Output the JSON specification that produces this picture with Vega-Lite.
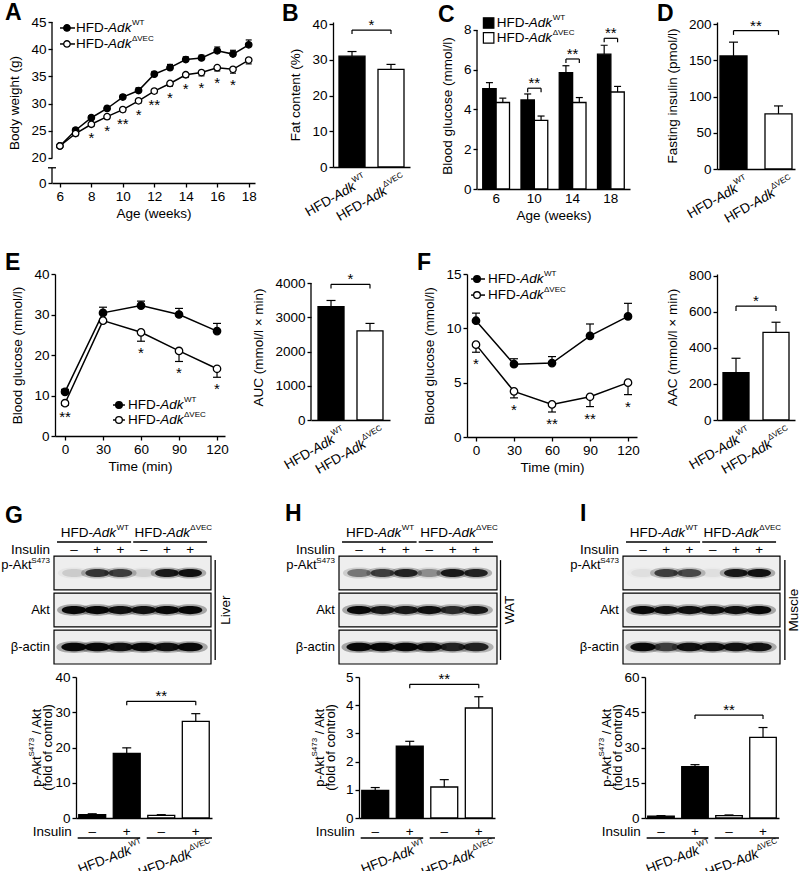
{
"$schema":"https://vega.github.io/schema/vega-lite/v6.json",
"padding":{"left":0,"top":2,"right":0,"bottom":0},
"background":"white",
"config":{
 "font":"Liberation Sans",
 "view":{"stroke":null},
 "mark":{"color":"black"},
 "point":{"opacity":1},
 "tick":{"opacity":1,"thickness":1.2},
 "bar":{"stroke":"black","strokeWidth":1.3},
 "text":{"fontSize":13.5,"color":"black"},
 "rule":{"strokeWidth":1.2},
 "axis":{"domainColor":"black","domainWidth":1.3,"tickColor":"black","tickWidth":1.3,"tickSize":4,"labelColor":"black","labelFontSize":13.5,"titleColor":"black","titleFontSize":13.5,"titleFontWeight":"normal","grid":false,"labelPadding":2,"labelFlush":false,"labelOverlap":false},
 "axisY":{"titlePadding":9},
 "axisX":{"titlePadding":4,"labelAngle":0},
 "title":{"fontSize":23,"fontWeight":"bold","anchor":"start","frame":"group","offset":0,"color":"black","baseline":"bottom"}
},
"datasets":{
 "bw":[
 {"wk":6,"g":"WT","v":22.2,"e":22.5,"s":""},{"wk":7,"g":"WT","v":25.1,"e":25.5,"s":""},{"wk":8,"g":"WT","v":27.4,"e":27.8,"s":""},{"wk":9,"g":"WT","v":29.1,"e":29.5,"s":""},{"wk":10,"g":"WT","v":31.2,"e":31.6,"s":""},{"wk":11,"g":"WT","v":32.4,"e":32.9,"s":""},{"wk":12,"g":"WT","v":35.4,"e":35.9,"s":""},{"wk":13,"g":"WT","v":36.6,"e":37.2,"s":""},{"wk":14,"g":"WT","v":38.1,"e":38.6,"s":""},{"wk":15,"g":"WT","v":38.4,"e":38.9,"s":""},{"wk":16,"g":"WT","v":39.7,"e":40.4,"s":""},{"wk":17,"g":"WT","v":39.1,"e":39.8,"s":""},{"wk":18,"g":"WT","v":40.8,"e":41.7,"s":""},
 {"wk":6,"g":"VEC","v":22.2,"e":21.9,"s":""},{"wk":7,"g":"VEC","v":24.5,"e":24.1,"s":""},{"wk":8,"g":"VEC","v":26.2,"e":25.8,"s":"*"},{"wk":9,"g":"VEC","v":27.6,"e":27.2,"s":"*"},{"wk":10,"g":"VEC","v":28.9,"e":28.5,"s":"**"},{"wk":11,"g":"VEC","v":30.5,"e":30.1,"s":"*"},{"wk":12,"g":"VEC","v":32.3,"e":31.9,"s":"**"},{"wk":13,"g":"VEC","v":33.7,"e":33.2,"s":"*"},{"wk":14,"g":"VEC","v":35.3,"e":34.8,"s":"*"},{"wk":15,"g":"VEC","v":35.7,"e":35.1,"s":"*"},{"wk":16,"g":"VEC","v":36.6,"e":36.0,"s":"*"},{"wk":17,"g":"VEC","v":36.3,"e":35.6,"s":"*"},{"wk":18,"g":"VEC","v":38.0,"e":37.3,"s":""}],
 "fat":[{"g":"WT","v":31.0,"e":32.3},{"g":"VEC","v":27.3,"e":28.7}],
 "glu":[{"wk":6,"g":"WT","v":5.05,"e":5.35},{"wk":6,"g":"VEC","v":4.35,"e":4.57},{"wk":10,"g":"WT","v":4.48,"e":4.78},{"wk":10,"g":"VEC","v":3.45,"e":3.67},{"wk":14,"g":"WT","v":5.85,"e":6.2},{"wk":14,"g":"VEC","v":4.35,"e":4.6},{"wk":18,"g":"WT","v":6.78,"e":7.23},{"wk":18,"g":"VEC","v":4.88,"e":5.16}],
 "ins":[{"g":"WT","v":156,"e":175},{"g":"VEC","v":76,"e":87}],
 "gtt":[{"t":0,"g":"WT","v":10.9,"e":11.5,"s":""},{"t":30,"g":"WT","v":30.4,"e":31.8,"s":""},{"t":60,"g":"WT","v":32.2,"e":33.3,"s":""},{"t":90,"g":"WT","v":30.0,"e":31.5,"s":""},{"t":120,"g":"WT","v":25.9,"e":27.8,"s":""},
 {"t":0,"g":"VEC","v":8.1,"e":7.6,"s":"**"},{"t":30,"g":"VEC","v":28.5,"e":28.0,"s":""},{"t":60,"g":"VEC","v":25.6,"e":23.4,"s":"*"},{"t":90,"g":"VEC","v":21.0,"e":18.4,"s":"*"},{"t":120,"g":"VEC","v":16.6,"e":14.5,"s":"*"}],
 "auc":[{"g":"WT","v":3310,"e":3490},{"g":"VEC","v":2600,"e":2820}],
 "itt":[{"t":0,"g":"WT","v":10.7,"e":11.4,"s":""},{"t":30,"g":"WT","v":6.7,"e":7.2,"s":""},{"t":60,"g":"WT","v":6.8,"e":7.4,"s":""},{"t":90,"g":"WT","v":9.3,"e":10.4,"s":""},{"t":120,"g":"WT","v":11.1,"e":12.3,"s":""},
 {"t":0,"g":"VEC","v":8.5,"e":7.8,"s":"*"},{"t":30,"g":"VEC","v":4.2,"e":3.6,"s":"*"},{"t":60,"g":"VEC","v":3.0,"e":2.3,"s":"**"},{"t":90,"g":"VEC","v":3.7,"e":2.8,"s":"**"},{"t":120,"g":"VEC","v":5.0,"e":3.9,"s":"*"}],
 "aac":[{"g":"WT","v":263,"e":343},{"g":"VEC","v":487,"e":543}],
 "gblot":[{"lane":1,"p":"p-Akt","i":0.12},{"lane":2,"p":"p-Akt","i":0.75},{"lane":3,"p":"p-Akt","i":0.7},{"lane":4,"p":"p-Akt","i":0.1},{"lane":5,"p":"p-Akt","i":0.9},{"lane":6,"p":"p-Akt","i":0.95},
 {"lane":1,"p":"Akt","i":1},{"lane":2,"p":"Akt","i":1},{"lane":3,"p":"Akt","i":0.95},{"lane":4,"p":"Akt","i":0.95},{"lane":5,"p":"Akt","i":1},{"lane":6,"p":"Akt","i":1},
 {"lane":1,"p":"β-actin","i":1},{"lane":2,"p":"β-actin","i":1},{"lane":3,"p":"β-actin","i":0.95},{"lane":4,"p":"β-actin","i":1},{"lane":5,"p":"β-actin","i":0.95},{"lane":6,"p":"β-actin","i":1}],
 "hblot":[{"lane":1,"p":"p-Akt","i":0.45},{"lane":2,"p":"p-Akt","i":0.7},{"lane":3,"p":"p-Akt","i":0.85},{"lane":4,"p":"p-Akt","i":0.35},{"lane":5,"p":"p-Akt","i":0.9},{"lane":6,"p":"p-Akt","i":0.85},
 {"lane":1,"p":"Akt","i":1},{"lane":2,"p":"Akt","i":0.9},{"lane":3,"p":"Akt","i":0.9},{"lane":4,"p":"Akt","i":0.95},{"lane":5,"p":"Akt","i":0.8},{"lane":6,"p":"Akt","i":0.9},
 {"lane":1,"p":"β-actin","i":1},{"lane":2,"p":"β-actin","i":1},{"lane":3,"p":"β-actin","i":1},{"lane":4,"p":"β-actin","i":0.95},{"lane":5,"p":"β-actin","i":0.85},{"lane":6,"p":"β-actin","i":0.85}],
 "iblot":[{"lane":1,"p":"p-Akt","i":0.05},{"lane":2,"p":"p-Akt","i":0.7},{"lane":3,"p":"p-Akt","i":0.65},{"lane":4,"p":"p-Akt","i":0.05},{"lane":5,"p":"p-Akt","i":0.9},{"lane":6,"p":"p-Akt","i":0.95},
 {"lane":1,"p":"Akt","i":1},{"lane":2,"p":"Akt","i":0.95},{"lane":3,"p":"Akt","i":0.95},{"lane":4,"p":"Akt","i":0.95},{"lane":5,"p":"Akt","i":0.95},{"lane":6,"p":"Akt","i":1},
 {"lane":1,"p":"β-actin","i":1},{"lane":2,"p":"β-actin","i":0.7},{"lane":3,"p":"β-actin","i":0.95},{"lane":4,"p":"β-actin","i":0.95},{"lane":5,"p":"β-actin","i":0.95},{"lane":6,"p":"β-actin","i":0.95}],
 "lanes":[{"lane":1,"ins":"–"},{"lane":2,"ins":"+"},{"lane":3,"ins":"+"},{"lane":4,"ins":"–"},{"lane":5,"ins":"+"},{"lane":6,"ins":"+"}],
 "gbar":[{"c":"WT-","g":"WT","ins":"–","v":0.95,"e":1.2},{"c":"WT+","g":"WT","ins":"+","v":18.3,"e":19.9},{"c":"VEC-","g":"VEC","ins":"–","v":0.75,"e":0.95},{"c":"VEC+","g":"VEC","ins":"+","v":27.4,"e":29.6}],
 "hbar":[{"c":"WT-","g":"WT","ins":"–","v":0.98,"e":1.08},{"c":"WT+","g":"WT","ins":"+","v":2.55,"e":2.72},{"c":"VEC-","g":"VEC","ins":"–","v":1.1,"e":1.36},{"c":"VEC+","g":"VEC","ins":"+","v":3.9,"e":4.3}],
 "ibar":[{"c":"WT-","g":"WT","ins":"–","v":0.8,"e":1.0},{"c":"WT+","g":"WT","ins":"+","v":21.8,"e":22.7},{"c":"VEC-","g":"VEC","ins":"–","v":1.0,"e":1.3},{"c":"VEC+","g":"VEC","ins":"+","v":34.3,"e":38.5}]
},
"spacing":0,
"vconcat":[
{"bounds":"flush","spacing":0,"hconcat":[
 {"width":52,"height":230,"data":{"values":[{}]},"mark":{"type":"point","opacity":0}},
 {"title":{"text":"A","dx":-47,"dy":14},"width":203,"height":161,"data":{"name":"bw"},
  "layer":[
   {"mark":{"type":"line","strokeWidth":1.5},"encoding":{"x":{"field":"wk","type":"quantitative","scale":{"domain":[5.5,18.4],"nice":false,"zero":false},"axis":{"values":[6,8,10,12,14,16,18],"format":"d","tickCount":30,"labelOverlap":false,"title":"Age (weeks)"}},"y":{"field":"v","type":"quantitative","scale":{"domain":[15.4,45],"nice":false,"zero":false},"axis":{"values":[15.4,20,25,30,35,40,45],"format":"d","tickCount":30,"labelOverlap":false,"labelExpr":"datum.value < 16 ? '0' : datum.label","title":"Body weight (g)","domain":false}},"detail":{"field":"g"}}},
   {"data":{"values":[{}]},"mark":{"type":"rule","strokeWidth":1.3},"encoding":{"x":{"datum":5.5},"y":{"datum":20},"y2":{"datum":45}}},
   {"data":{"values":[{}]},"mark":{"type":"rule","strokeWidth":1.3},"encoding":{"x":{"datum":5.5},"y":{"datum":15.4},"y2":{"datum":18.2}}},
   {"data":{"values":[{}]},"mark":{"type":"tick","orient":"horizontal","size":8,"thickness":1.3},"encoding":{"x":{"datum":5.5},"y":{"datum":18.2}}},
   {"mark":"rule","encoding":{"x":{"field":"wk","type":"quantitative"},"y":{"field":"v","type":"quantitative"},"y2":{"field":"e"}}},
   {"mark":{"type":"tick","orient":"horizontal","size":6},"encoding":{"x":{"field":"wk","type":"quantitative"},"y":{"field":"e","type":"quantitative"}}},
   {"mark":{"type":"point","shape":"circle","size":42,"filled":true,"stroke":"black","strokeWidth":1.3},"encoding":{"x":{"field":"wk","type":"quantitative"},"y":{"field":"v","type":"quantitative"},"fill":{"field":"g","type":"nominal","scale":{"domain":["WT","VEC"],"range":["black","white"]},"legend":null}}},
   {"mark":{"type":"text","fontSize":15,"baseline":"alphabetic","dy":17},"encoding":{"x":{"field":"wk","type":"quantitative"},"y":{"field":"e","type":"quantitative"},"text":{"field":"s"}}},
   {"data":{"values":[{}]},"mark":{"type":"rule","strokeWidth":1.5},"encoding":{"x":{"datum":6.01},"x2":{"datum":6.96},"y":{"datum":43.9}}},
   {"data":{"values":[{}]},"mark":{"type":"point","shape":"circle","size":42,"filled":true,"fill":"black","stroke":"black","strokeWidth":1.3},"encoding":{"x":{"datum":6.45},"y":{"datum":43.9}}},
   {"data":{"values":[{}]},"mark":{"type":"text","align":"left","baseline":"middle"},"encoding":{"x":{"datum":7.02},"y":{"datum":43.9},"text":{"value":"HFD-"}}},
   {"data":{"values":[{}]},"mark":{"type":"text","align":"left","baseline":"middle","fontStyle":"italic","dx":32.2},"encoding":{"x":{"datum":7.02},"y":{"datum":43.9},"text":{"value":"Adk"}}},
   {"data":{"values":[{}]},"mark":{"type":"text","align":"left","baseline":"middle","fontSize":8,"dx":56,"dy":-5},"encoding":{"x":{"datum":7.02},"y":{"datum":43.9},"text":{"value":"WT"}}},
   {"data":{"values":[{}]},"mark":{"type":"rule","strokeWidth":1.5},"encoding":{"x":{"datum":6.01},"x2":{"datum":6.96},"y":{"datum":40.96}}},
   {"data":{"values":[{}]},"mark":{"type":"point","shape":"circle","size":42,"filled":true,"fill":"white","stroke":"black","strokeWidth":1.3},"encoding":{"x":{"datum":6.45},"y":{"datum":40.96}}},
   {"data":{"values":[{}]},"mark":{"type":"text","align":"left","baseline":"middle"},"encoding":{"x":{"datum":7.02},"y":{"datum":40.96},"text":{"value":"HFD-"}}},
   {"data":{"values":[{}]},"mark":{"type":"text","align":"left","baseline":"middle","fontStyle":"italic","dx":32.2},"encoding":{"x":{"datum":7.02},"y":{"datum":40.96},"text":{"value":"Adk"}}},
   {"data":{"values":[{}]},"mark":{"type":"text","align":"left","baseline":"middle","fontSize":8,"dx":56,"dy":-5},"encoding":{"x":{"datum":7.02},"y":{"datum":40.96},"text":{"value":"ΔVEC"}}}
  ]},
 {"width":78,"height":1,"data":{"values":[{}]},"mark":{"type":"point","opacity":0}},
 {"title":{"text":"B","dx":-51,"dy":13},"width":77,"height":145,"data":{"name":"fat"},
  "layer":[
   {"mark":"bar","encoding":{"x":{"field":"g","type":"nominal","scale":{"domain":["WT","VEC"],"paddingInner":0.333,"paddingOuter":0.154},"axis":{"labels":false,"ticks":false,"title":null}},"y":{"field":"v","type":"quantitative","scale":{"domain":[0,40.56],"nice":false},"axis":{"values":[0,10,20,30,40],"format":"d","tickCount":30,"labelOverlap":false,"title":"Fat content (%)"}},"fill":{"field":"g","type":"nominal","scale":{"domain":["WT","VEC"],"range":["black","white"]},"legend":null}}},
   {"mark":"rule","encoding":{"x":{"field":"g","type":"nominal"},"y":{"field":"v","type":"quantitative"},"y2":{"field":"e"}}},
   {"mark":{"type":"tick","orient":"horizontal","size":9},"encoding":{"x":{"field":"g","type":"nominal"},"y":{"field":"e","type":"quantitative"}}},
   {"data":{"values":[{}]},"mark":"rule","encoding":{"x":{"datum":"WT","type":"nominal","bandPosition":0.5},"x2":{"datum":"VEC","bandPosition":0.5},"y":{"datum":38.3}}},
   {"data":{"values":[{"g":"WT"},{"g":"VEC"}]},"mark":"rule","encoding":{"x":{"field":"g","type":"nominal"},"y":{"datum":38.3},"y2":{"datum":37.2}}},
   {"data":{"values":[{}]},"mark":{"type":"text","fontSize":15,"baseline":"alphabetic"},"encoding":{"x":{"datum":"WT","type":"nominal","bandPosition":1.25},"y":{"datum":38.3},"text":{"value":"*"}}},
   {"data":{"values":[{}]},"mark":{"type":"text","angle":-30,"align":"right","baseline":"top","fontSize":8,"dx":-3,"dy":3.2},"encoding":{"x":{"datum":"WT","type":"nominal","bandPosition":0.9},"y":{"datum":0},"text":{"value":"WT"}}},
   {"data":{"values":[{}]},"mark":{"type":"text","angle":-30,"align":"right","baseline":"top","fontStyle":"italic","dx":-16,"dy":5.2},"encoding":{"x":{"datum":"WT","type":"nominal","bandPosition":0.9},"y":{"datum":0},"text":{"value":"Adk"}}},
   {"data":{"values":[{}]},"mark":{"type":"text","angle":-30,"align":"right","baseline":"top","dx":-39.3,"dy":5.2},"encoding":{"x":{"datum":"WT","type":"nominal","bandPosition":0.9},"y":{"datum":0},"text":{"value":"HFD-"}}},
   {"data":{"values":[{}]},"mark":{"type":"text","angle":-30,"align":"right","baseline":"top","fontSize":8,"dx":-3,"dy":3.2},"encoding":{"x":{"datum":"VEC","type":"nominal","bandPosition":0.9},"y":{"datum":0},"text":{"value":"ΔVEC"}}},
   {"data":{"values":[{}]},"mark":{"type":"text","angle":-30,"align":"right","baseline":"top","fontStyle":"italic","dx":-25,"dy":5.2},"encoding":{"x":{"datum":"VEC","type":"nominal","bandPosition":0.9},"y":{"datum":0},"text":{"value":"Adk"}}},
   {"data":{"values":[{}]},"mark":{"type":"text","angle":-30,"align":"right","baseline":"top","dx":-48.3,"dy":5.2},"encoding":{"x":{"datum":"VEC","type":"nominal","bandPosition":0.9},"y":{"datum":0},"text":{"value":"HFD-"}}}
  ]},
 {"width":67,"height":1,"data":{"values":[{}]},"mark":{"type":"point","opacity":0}},
 {"title":{"text":"C","dx":-39,"dy":17},"width":153,"height":167,"data":{"name":"glu"},
  "layer":[
   {"mark":"bar","encoding":{"x":{"field":"wk","type":"ordinal","scale":{"domain":[6,10,14,18],"paddingInner":0.3,"paddingOuter":0.15},"axis":{"ticks":false,"labelOverlap":false,"title":"Age (weeks)"}},"y":{"field":"v","type":"quantitative","scale":{"domain":[0,8.4],"nice":false},"axis":{"values":[0,2,4,6,8],"format":"d","tickCount":30,"labelOverlap":false,"title":"Blood glucose (mmol/l)","domain":false}},"xOffset":{"field":"g","type":"nominal","scale":{"domain":["WT","VEC"],"paddingInner":0}},"fill":{"field":"g","type":"nominal","scale":{"domain":["WT","VEC"],"range":["black","white"]},"legend":null}}},
   {"data":{"values":[{}]},"mark":{"type":"rule","strokeWidth":1.3},"encoding":{"x":{"datum":6,"type":"ordinal","bandPosition":-0.214},"y":{"datum":0},"y2":{"datum":8}}},
   {"mark":"rule","encoding":{"x":{"field":"wk","type":"ordinal"},"xOffset":{"field":"g","type":"nominal"},"y":{"field":"v","type":"quantitative"},"y2":{"field":"e"}}},
   {"mark":{"type":"tick","orient":"horizontal","size":7},"encoding":{"x":{"field":"wk","type":"ordinal"},"xOffset":{"field":"g","type":"nominal"},"y":{"field":"e","type":"quantitative"}}},
   {"data":{"values":[{}]},"mark":"rule","encoding":{"x":{"datum":10,"type":"ordinal","bandPosition":0.25},"x2":{"datum":10,"bandPosition":0.75},"y":{"datum":5.07}}},
   {"data":{"values":[{"wk":10,"g":"WT"},{"wk":10,"g":"VEC"}]},"mark":"rule","encoding":{"x":{"field":"wk","type":"ordinal"},"xOffset":{"field":"g","type":"nominal"},"y":{"datum":5.07},"y2":{"datum":4.87}}},
   {"data":{"values":[{}]},"mark":{"type":"text","fontSize":15,"baseline":"alphabetic"},"encoding":{"x":{"datum":10,"type":"ordinal","bandPosition":0.5},"y":{"datum":5.07},"text":{"value":"**"}}},
   {"data":{"values":[{}]},"mark":"rule","encoding":{"x":{"datum":14,"type":"ordinal","bandPosition":0.25},"x2":{"datum":14,"bandPosition":0.75},"y":{"datum":6.54}}},
   {"data":{"values":[{"wk":14,"g":"WT"},{"wk":14,"g":"VEC"}]},"mark":"rule","encoding":{"x":{"field":"wk","type":"ordinal"},"xOffset":{"field":"g","type":"nominal"},"y":{"datum":6.54},"y2":{"datum":6.34}}},
   {"data":{"values":[{}]},"mark":{"type":"text","fontSize":15,"baseline":"alphabetic"},"encoding":{"x":{"datum":14,"type":"ordinal","bandPosition":0.5},"y":{"datum":6.54},"text":{"value":"**"}}},
   {"data":{"values":[{}]},"mark":"rule","encoding":{"x":{"datum":18,"type":"ordinal","bandPosition":0.25},"x2":{"datum":18,"bandPosition":0.75},"y":{"datum":7.58}}},
   {"data":{"values":[{"wk":18,"g":"WT"},{"wk":18,"g":"VEC"}]},"mark":"rule","encoding":{"x":{"field":"wk","type":"ordinal"},"xOffset":{"field":"g","type":"nominal"},"y":{"datum":7.58},"y2":{"datum":7.38}}},
   {"data":{"values":[{}]},"mark":{"type":"text","fontSize":15,"baseline":"alphabetic"},"encoding":{"x":{"datum":18,"type":"ordinal","bandPosition":0.5},"y":{"datum":7.58},"text":{"value":"**"}}},
   {"data":{"values":[{}]},"mark":{"type":"point","shape":"square","size":110,"filled":true,"fill":"black","stroke":"black","strokeWidth":1.2},"encoding":{"x":{"datum":6,"type":"ordinal","bandPosition":0.22},"y":{"datum":8.35}}},
   {"data":{"values":[{}]},"mark":{"type":"text","align":"left","baseline":"middle"},"encoding":{"x":{"datum":6,"type":"ordinal","bandPosition":0.52},"y":{"datum":8.35},"text":{"value":"HFD-"}}},
   {"data":{"values":[{}]},"mark":{"type":"text","align":"left","baseline":"middle","fontStyle":"italic","dx":32.2},"encoding":{"x":{"datum":6,"type":"ordinal","bandPosition":0.52},"y":{"datum":8.35},"text":{"value":"Adk"}}},
   {"data":{"values":[{}]},"mark":{"type":"text","align":"left","baseline":"middle","fontSize":8,"dx":56,"dy":-5},"encoding":{"x":{"datum":6,"type":"ordinal","bandPosition":0.52},"y":{"datum":8.35},"text":{"value":"WT"}}},
   {"data":{"values":[{}]},"mark":{"type":"point","shape":"square","size":110,"filled":true,"fill":"white","stroke":"black","strokeWidth":1.2},"encoding":{"x":{"datum":6,"type":"ordinal","bandPosition":0.22},"y":{"datum":7.6}}},
   {"data":{"values":[{}]},"mark":{"type":"text","align":"left","baseline":"middle"},"encoding":{"x":{"datum":6,"type":"ordinal","bandPosition":0.52},"y":{"datum":7.6},"text":{"value":"HFD-"}}},
   {"data":{"values":[{}]},"mark":{"type":"text","align":"left","baseline":"middle","fontStyle":"italic","dx":32.2},"encoding":{"x":{"datum":6,"type":"ordinal","bandPosition":0.52},"y":{"datum":7.6},"text":{"value":"Adk"}}},
   {"data":{"values":[{}]},"mark":{"type":"text","align":"left","baseline":"middle","fontSize":8,"dx":56,"dy":-5},"encoding":{"x":{"datum":6,"type":"ordinal","bandPosition":0.52},"y":{"datum":7.6},"text":{"value":"ΔVEC"}}}
  ]},
 {"width":87,"height":1,"data":{"values":[{}]},"mark":{"type":"point","opacity":0}},
 {"title":{"text":"D","dx":-60,"dy":13},"width":78,"height":147,"data":{"name":"ins"},
  "layer":[
   {"mark":"bar","encoding":{"x":{"field":"g","type":"nominal","scale":{"domain":["WT","VEC"],"paddingInner":0.4,"paddingOuter":0.067},"axis":{"labels":false,"ticks":false,"title":null}},"y":{"field":"v","type":"quantitative","scale":{"domain":[0,202.8],"nice":false},"axis":{"values":[0,50,100,150,200],"format":"d","tickCount":30,"labelOverlap":false,"title":"Fasting insulin (pmol/l)"}},"fill":{"field":"g","type":"nominal","scale":{"domain":["WT","VEC"],"range":["black","white"]},"legend":null}}},
   {"mark":"rule","encoding":{"x":{"field":"g","type":"nominal"},"y":{"field":"v","type":"quantitative"},"y2":{"field":"e"}}},
   {"mark":{"type":"tick","orient":"horizontal","size":9},"encoding":{"x":{"field":"g","type":"nominal"},"y":{"field":"e","type":"quantitative"}}},
   {"data":{"values":[{}]},"mark":"rule","encoding":{"x":{"datum":"WT","type":"nominal","bandPosition":0.5},"x2":{"datum":"VEC","bandPosition":0.5},"y":{"datum":191}}},
   {"data":{"values":[{"g":"WT"},{"g":"VEC"}]},"mark":"rule","encoding":{"x":{"field":"g","type":"nominal"},"y":{"datum":191},"y2":{"datum":185}}},
   {"data":{"values":[{}]},"mark":{"type":"text","fontSize":15,"baseline":"alphabetic"},"encoding":{"x":{"datum":"WT","type":"nominal","bandPosition":1.33},"y":{"datum":191},"text":{"value":"**"}}},
   {"data":{"values":[{}]},"mark":{"type":"text","angle":-30,"align":"right","baseline":"top","fontSize":8,"dx":-3,"dy":3.2},"encoding":{"x":{"datum":"WT","type":"nominal","bandPosition":0.9},"y":{"datum":0},"text":{"value":"WT"}}},
   {"data":{"values":[{}]},"mark":{"type":"text","angle":-30,"align":"right","baseline":"top","fontStyle":"italic","dx":-16,"dy":5.2},"encoding":{"x":{"datum":"WT","type":"nominal","bandPosition":0.9},"y":{"datum":0},"text":{"value":"Adk"}}},
   {"data":{"values":[{}]},"mark":{"type":"text","angle":-30,"align":"right","baseline":"top","dx":-39.3,"dy":5.2},"encoding":{"x":{"datum":"WT","type":"nominal","bandPosition":0.9},"y":{"datum":0},"text":{"value":"HFD-"}}},
   {"data":{"values":[{}]},"mark":{"type":"text","angle":-30,"align":"right","baseline":"top","fontSize":8,"dx":-3,"dy":3.2},"encoding":{"x":{"datum":"VEC","type":"nominal","bandPosition":0.9},"y":{"datum":0},"text":{"value":"ΔVEC"}}},
   {"data":{"values":[{}]},"mark":{"type":"text","angle":-30,"align":"right","baseline":"top","fontStyle":"italic","dx":-25,"dy":5.2},"encoding":{"x":{"datum":"VEC","type":"nominal","bandPosition":0.9},"y":{"datum":0},"text":{"value":"Adk"}}},
   {"data":{"values":[{}]},"mark":{"type":"text","angle":-30,"align":"right","baseline":"top","dx":-48.3,"dy":5.2},"encoding":{"x":{"datum":"VEC","type":"nominal","bandPosition":0.9},"y":{"datum":0},"text":{"value":"HFD-"}}}
  ]}
]},
{"bounds":"flush","spacing":0,"hconcat":[
 {"width":55,"height":229,"data":{"values":[{}]},"mark":{"type":"point","opacity":0}},
 {"title":{"text":"E","dx":-50,"dy":12},"width":170,"height":162,"data":{"name":"gtt"},
  "layer":[
   {"mark":{"type":"line","strokeWidth":1.5},"encoding":{"x":{"field":"t","type":"quantitative","scale":{"domain":[-7.9,126.3],"nice":false,"zero":false},"axis":{"values":[0,30,60,90,120],"format":"d","tickCount":30,"labelOverlap":false,"title":"Time (min)"}},"y":{"field":"v","type":"quantitative","scale":{"domain":[0,40],"nice":false},"axis":{"values":[0,10,20,30,40],"format":"d","tickCount":30,"labelOverlap":false,"title":"Blood glucose (mmol/l)"}},"detail":{"field":"g"}}},
   {"mark":"rule","encoding":{"x":{"field":"t","type":"quantitative"},"y":{"field":"v","type":"quantitative"},"y2":{"field":"e"}}},
   {"mark":{"type":"tick","orient":"horizontal","size":8},"encoding":{"x":{"field":"t","type":"quantitative"},"y":{"field":"e","type":"quantitative"}}},
   {"mark":{"type":"point","shape":"circle","size":55,"filled":true,"stroke":"black","strokeWidth":1.3},"encoding":{"x":{"field":"t","type":"quantitative"},"y":{"field":"v","type":"quantitative"},"fill":{"field":"g","type":"nominal","scale":{"domain":["WT","VEC"],"range":["black","white"]},"legend":null}}},
   {"mark":{"type":"text","fontSize":15,"baseline":"alphabetic","dy":17},"encoding":{"x":{"field":"t","type":"quantitative"},"y":{"field":"e","type":"quantitative"},"text":{"field":"s"}}},
   {"data":{"values":[{}]},"mark":{"type":"rule","strokeWidth":1.5},"encoding":{"x":{"datum":37.9},"x2":{"datum":47.3},"y":{"datum":7.65}}},
   {"data":{"values":[{}]},"mark":{"type":"point","shape":"circle","size":45,"filled":true,"fill":"black","stroke":"black","strokeWidth":1.3},"encoding":{"x":{"datum":42.6},"y":{"datum":7.65}}},
   {"data":{"values":[{}]},"mark":{"type":"text","align":"left","baseline":"middle"},"encoding":{"x":{"datum":49.7},"y":{"datum":7.65},"text":{"value":"HFD-"}}},
   {"data":{"values":[{}]},"mark":{"type":"text","align":"left","baseline":"middle","fontStyle":"italic","dx":32.2},"encoding":{"x":{"datum":49.7},"y":{"datum":7.65},"text":{"value":"Adk"}}},
   {"data":{"values":[{}]},"mark":{"type":"text","align":"left","baseline":"middle","fontSize":8,"dx":56,"dy":-5},"encoding":{"x":{"datum":49.7},"y":{"datum":7.65},"text":{"value":"WT"}}},
   {"data":{"values":[{}]},"mark":{"type":"rule","strokeWidth":1.5},"encoding":{"x":{"datum":37.9},"x2":{"datum":47.3},"y":{"datum":3.95}}},
   {"data":{"values":[{}]},"mark":{"type":"point","shape":"circle","size":45,"filled":true,"fill":"white","stroke":"black","strokeWidth":1.3},"encoding":{"x":{"datum":42.6},"y":{"datum":3.95}}},
   {"data":{"values":[{}]},"mark":{"type":"text","align":"left","baseline":"middle"},"encoding":{"x":{"datum":49.7},"y":{"datum":3.95},"text":{"value":"HFD-"}}},
   {"data":{"values":[{}]},"mark":{"type":"text","align":"left","baseline":"middle","fontStyle":"italic","dx":32.2},"encoding":{"x":{"datum":49.7},"y":{"datum":3.95},"text":{"value":"Adk"}}},
   {"data":{"values":[{}]},"mark":{"type":"text","align":"left","baseline":"middle","fontSize":8,"dx":56,"dy":-5},"encoding":{"x":{"datum":49.7},"y":{"datum":3.95},"text":{"value":"ΔVEC"}}}
  ]},
 {"width":86,"height":1,"data":{"values":[{}]},"mark":{"type":"point","opacity":0}},
 {"width":79,"height":146,"data":{"name":"auc"},
  "layer":[
   {"mark":"bar","encoding":{"x":{"field":"g","type":"nominal","scale":{"domain":["WT","VEC"],"paddingInner":0.333,"paddingOuter":0.18},"axis":{"labels":false,"ticks":false,"title":null}},"y":{"field":"v","type":"quantitative","scale":{"domain":[0,4263],"nice":false},"axis":{"values":[0,1000,2000,3000,4000],"tickCount":30,"labelOverlap":false,"format":"d","title":"AUC (mmol/l × min)","domain":false}},"fill":{"field":"g","type":"nominal","scale":{"domain":["WT","VEC"],"range":["black","white"]},"legend":null}}},
   {"data":{"values":[{}]},"mark":{"type":"rule","strokeWidth":1.3},"encoding":{"x":{"datum":"WT","type":"nominal","bandPosition":-0.27},"y":{"datum":0},"y2":{"datum":4000}}},
   {"mark":"rule","encoding":{"x":{"field":"g","type":"nominal"},"y":{"field":"v","type":"quantitative"},"y2":{"field":"e"}}},
   {"mark":{"type":"tick","orient":"horizontal","size":9},"encoding":{"x":{"field":"g","type":"nominal"},"y":{"field":"e","type":"quantitative"}}},
   {"data":{"values":[{}]},"mark":"rule","encoding":{"x":{"datum":"WT","type":"nominal","bandPosition":0.5},"x2":{"datum":"VEC","bandPosition":0.5},"y":{"datum":3962}}},
   {"data":{"values":[{"g":"WT"},{"g":"VEC"}]},"mark":"rule","encoding":{"x":{"field":"g","type":"nominal"},"y":{"datum":3962},"y2":{"datum":3840}}},
   {"data":{"values":[{}]},"mark":{"type":"text","fontSize":15,"baseline":"alphabetic"},"encoding":{"x":{"datum":"WT","type":"nominal","bandPosition":1.25},"y":{"datum":3962},"text":{"value":"*"}}},
   {"data":{"values":[{}]},"mark":{"type":"text","angle":-30,"align":"right","baseline":"top","fontSize":8,"dx":-3,"dy":3.2},"encoding":{"x":{"datum":"WT","type":"nominal","bandPosition":0.9},"y":{"datum":0},"text":{"value":"WT"}}},
   {"data":{"values":[{}]},"mark":{"type":"text","angle":-30,"align":"right","baseline":"top","fontStyle":"italic","dx":-16,"dy":5.2},"encoding":{"x":{"datum":"WT","type":"nominal","bandPosition":0.9},"y":{"datum":0},"text":{"value":"Adk"}}},
   {"data":{"values":[{}]},"mark":{"type":"text","angle":-30,"align":"right","baseline":"top","dx":-39.3,"dy":5.2},"encoding":{"x":{"datum":"WT","type":"nominal","bandPosition":0.9},"y":{"datum":0},"text":{"value":"HFD-"}}},
   {"data":{"values":[{}]},"mark":{"type":"text","angle":-30,"align":"right","baseline":"top","fontSize":8,"dx":-3,"dy":3.2},"encoding":{"x":{"datum":"VEC","type":"nominal","bandPosition":0.9},"y":{"datum":0},"text":{"value":"ΔVEC"}}},
   {"data":{"values":[{}]},"mark":{"type":"text","angle":-30,"align":"right","baseline":"top","fontStyle":"italic","dx":-25,"dy":5.2},"encoding":{"x":{"datum":"VEC","type":"nominal","bandPosition":0.9},"y":{"datum":0},"text":{"value":"Adk"}}},
   {"data":{"values":[{}]},"mark":{"type":"text","angle":-30,"align":"right","baseline":"top","dx":-48.3,"dy":5.2},"encoding":{"x":{"datum":"VEC","type":"nominal","bandPosition":0.9},"y":{"datum":0},"text":{"value":"HFD-"}}}
  ]},
 {"width":77,"height":1,"data":{"values":[{}]},"mark":{"type":"point","opacity":0}},
 {"title":{"text":"F","dx":-50,"dy":12},"width":170,"height":163,"data":{"name":"itt"},
  "layer":[
   {"mark":{"type":"line","strokeWidth":1.5},"encoding":{"x":{"field":"t","type":"quantitative","scale":{"domain":[-7.1,127.1],"nice":false,"zero":false},"axis":{"values":[0,30,60,90,120],"format":"d","tickCount":30,"labelOverlap":false,"title":"Time (min)"}},"y":{"field":"v","type":"quantitative","scale":{"domain":[0,15],"nice":false},"axis":{"values":[0,5,10,15],"format":"d","tickCount":30,"labelOverlap":false,"title":"Blood glucose (mmol/l)"}},"detail":{"field":"g"}}},
   {"mark":"rule","encoding":{"x":{"field":"t","type":"quantitative"},"y":{"field":"v","type":"quantitative"},"y2":{"field":"e"}}},
   {"mark":{"type":"tick","orient":"horizontal","size":8},"encoding":{"x":{"field":"t","type":"quantitative"},"y":{"field":"e","type":"quantitative"}}},
   {"mark":{"type":"point","shape":"circle","size":55,"filled":true,"stroke":"black","strokeWidth":1.3},"encoding":{"x":{"field":"t","type":"quantitative"},"y":{"field":"v","type":"quantitative"},"fill":{"field":"g","type":"nominal","scale":{"domain":["WT","VEC"],"range":["black","white"]},"legend":null}}},
   {"mark":{"type":"text","fontSize":15,"baseline":"alphabetic","dy":17},"encoding":{"x":{"field":"t","type":"quantitative"},"y":{"field":"e","type":"quantitative"},"text":{"field":"s"}}},
   {"data":{"values":[{}]},"mark":{"type":"rule","strokeWidth":1.5},"encoding":{"x":{"datum":-3.9},"x2":{"datum":7.1},"y":{"datum":14.54}}},
   {"data":{"values":[{}]},"mark":{"type":"point","shape":"circle","size":45,"filled":true,"fill":"black","stroke":"black","strokeWidth":1.3},"encoding":{"x":{"datum":0.8},"y":{"datum":14.54}}},
   {"data":{"values":[{}]},"mark":{"type":"text","align":"left","baseline":"middle"},"encoding":{"x":{"datum":9.5},"y":{"datum":14.54},"text":{"value":"HFD-"}}},
   {"data":{"values":[{}]},"mark":{"type":"text","align":"left","baseline":"middle","fontStyle":"italic","dx":32.2},"encoding":{"x":{"datum":9.5},"y":{"datum":14.54},"text":{"value":"Adk"}}},
   {"data":{"values":[{}]},"mark":{"type":"text","align":"left","baseline":"middle","fontSize":8,"dx":56,"dy":-5},"encoding":{"x":{"datum":9.5},"y":{"datum":14.54},"text":{"value":"WT"}}},
   {"data":{"values":[{}]},"mark":{"type":"rule","strokeWidth":1.5},"encoding":{"x":{"datum":-3.9},"x2":{"datum":7.1},"y":{"datum":13.06}}},
   {"data":{"values":[{}]},"mark":{"type":"point","shape":"circle","size":45,"filled":true,"fill":"white","stroke":"black","strokeWidth":1.3},"encoding":{"x":{"datum":0.8},"y":{"datum":13.06}}},
   {"data":{"values":[{}]},"mark":{"type":"text","align":"left","baseline":"middle"},"encoding":{"x":{"datum":9.5},"y":{"datum":13.06},"text":{"value":"HFD-"}}},
   {"data":{"values":[{}]},"mark":{"type":"text","align":"left","baseline":"middle","fontStyle":"italic","dx":32.2},"encoding":{"x":{"datum":9.5},"y":{"datum":13.06},"text":{"value":"Adk"}}},
   {"data":{"values":[{}]},"mark":{"type":"text","align":"left","baseline":"middle","fontSize":8,"dx":56,"dy":-5},"encoding":{"x":{"datum":9.5},"y":{"datum":13.06},"text":{"value":"ΔVEC"}}}
  ]},
 {"width":80,"height":1,"data":{"values":[{}]},"mark":{"type":"point","opacity":0}},
 {"width":78,"height":146,"data":{"name":"aac"},
  "layer":[
   {"mark":"bar","encoding":{"x":{"field":"g","type":"nominal","scale":{"domain":["WT","VEC"],"paddingInner":0.35,"paddingOuter":0.15},"axis":{"labels":false,"ticks":false,"title":null}},"y":{"field":"v","type":"quantitative","scale":{"domain":[0,811],"nice":false},"axis":{"values":[0,200,400,600,800],"format":"d","tickCount":30,"labelOverlap":false,"title":"AAC (mmol/l × min)"}},"fill":{"field":"g","type":"nominal","scale":{"domain":["WT","VEC"],"range":["black","white"]},"legend":null}}},
   {"mark":"rule","encoding":{"x":{"field":"g","type":"nominal"},"y":{"field":"v","type":"quantitative"},"y2":{"field":"e"}}},
   {"mark":{"type":"tick","orient":"horizontal","size":9},"encoding":{"x":{"field":"g","type":"nominal"},"y":{"field":"e","type":"quantitative"}}},
   {"data":{"values":[{}]},"mark":"rule","encoding":{"x":{"datum":"WT","type":"nominal","bandPosition":0.5},"x2":{"datum":"VEC","bandPosition":0.5},"y":{"datum":633}}},
   {"data":{"values":[{"g":"WT"},{"g":"VEC"}]},"mark":"rule","encoding":{"x":{"field":"g","type":"nominal"},"y":{"datum":633},"y2":{"datum":606}}},
   {"data":{"values":[{}]},"mark":{"type":"text","fontSize":15,"baseline":"alphabetic"},"encoding":{"x":{"datum":"WT","type":"nominal","bandPosition":1.27},"y":{"datum":633},"text":{"value":"*"}}},
   {"data":{"values":[{}]},"mark":{"type":"text","angle":-30,"align":"right","baseline":"top","fontSize":8,"dx":-3,"dy":3.2},"encoding":{"x":{"datum":"WT","type":"nominal","bandPosition":0.9},"y":{"datum":0},"text":{"value":"WT"}}},
   {"data":{"values":[{}]},"mark":{"type":"text","angle":-30,"align":"right","baseline":"top","fontStyle":"italic","dx":-16,"dy":5.2},"encoding":{"x":{"datum":"WT","type":"nominal","bandPosition":0.9},"y":{"datum":0},"text":{"value":"Adk"}}},
   {"data":{"values":[{}]},"mark":{"type":"text","angle":-30,"align":"right","baseline":"top","dx":-39.3,"dy":5.2},"encoding":{"x":{"datum":"WT","type":"nominal","bandPosition":0.9},"y":{"datum":0},"text":{"value":"HFD-"}}},
   {"data":{"values":[{}]},"mark":{"type":"text","angle":-30,"align":"right","baseline":"top","fontSize":8,"dx":-3,"dy":3.2},"encoding":{"x":{"datum":"VEC","type":"nominal","bandPosition":0.9},"y":{"datum":0},"text":{"value":"ΔVEC"}}},
   {"data":{"values":[{}]},"mark":{"type":"text","angle":-30,"align":"right","baseline":"top","fontStyle":"italic","dx":-25,"dy":5.2},"encoding":{"x":{"datum":"VEC","type":"nominal","bandPosition":0.9},"y":{"datum":0},"text":{"value":"Adk"}}},
   {"data":{"values":[{}]},"mark":{"type":"text","angle":-30,"align":"right","baseline":"top","dx":-48.3,"dy":5.2},"encoding":{"x":{"datum":"VEC","type":"nominal","bandPosition":0.9},"y":{"datum":0},"text":{"value":"HFD-"}}}
  ]}
]},
{"bounds":"flush","spacing":0,"hconcat":[
 {"width":54,"height":151,"data":{"values":[{}]},"mark":{"type":"point","opacity":0}},
 {"title":{"text":"G","dx":-49,"dy":13},"width":157,"height":145,"data":{"name":"gblot"},"resolve":{"scale":{"size":"independent"}},
  "layer":[
   {"data":{"values":[{"p":"p-Akt"},{"p":"Akt"},{"p":"β-actin"}]},"mark":{"type":"rect","fill":"#eeeeee","stroke":"black","strokeWidth":1.2},"encoding":{"x":{"datum":0.14,"scale":{"domain":[0.14,6.9],"nice":false,"zero":false},"axis":null},"x2":{"datum":6.9},"y":{"field":"p","type":"nominal","scale":{"domain":["hdr","p-Akt","Akt","β-actin"],"paddingInner":0.088,"paddingOuter":0},"axis":null}}},
   {"mark":{"type":"point","shape":"M-1,0C-1,-0.45 1,-0.45 1,0C1,0.45 -1,0.45 -1,0Z","filled":true,"fill":"black","strokeWidth":0},"encoding":{"x":{"field":"lane","type":"quantitative","axis":null},"y":{"field":"p","type":"nominal","axis":null},"size":{"field":"p","type":"ordinal","scale":{"domain":["p-Akt","Akt","β-actin"],"range":[1050,1250,1350]},"legend":null},"fillOpacity":{"field":"i","type":"quantitative","scale":{"domain":[0,1],"range":[0,0.3]},"legend":null}}},
   {"mark":{"type":"point","shape":"M-1,0C-1,-0.45 1,-0.45 1,0C1,0.45 -1,0.45 -1,0Z","filled":true,"fill":"black","strokeWidth":0},"encoding":{"x":{"field":"lane","type":"quantitative","axis":null},"y":{"field":"p","type":"nominal","axis":null},"size":{"field":"p","type":"ordinal","scale":{"domain":["p-Akt","Akt","β-actin"],"range":[560,640,720]},"legend":null},"opacity":{"field":"i","type":"quantitative","scale":{"domain":[0,1],"range":[0,0.95]},"legend":null}}},
   {"data":{"values":[{}]},"mark":{"type":"text","align":"left","baseline":"middle","dx":-34},"encoding":{"x":{"datum":1.89,"axis":null},"y":{"datum":"hdr","type":"nominal","bandPosition":0.41,"axis":null},"text":{"value":"HFD-"}}},
   {"data":{"values":[{}]},"mark":{"type":"text","align":"left","baseline":"middle","fontStyle":"italic","dx":-1.8},"encoding":{"x":{"datum":1.89,"axis":null},"y":{"datum":"hdr","type":"nominal","bandPosition":0.41,"axis":null},"text":{"value":"Adk"}}},
   {"data":{"values":[{}]},"mark":{"type":"text","align":"left","baseline":"middle","fontSize":8,"dx":21.8,"dy":-5},"encoding":{"x":{"datum":1.89,"axis":null},"y":{"datum":"hdr","type":"nominal","bandPosition":0.41,"axis":null},"text":{"value":"WT"}}},
   {"data":{"values":[{}]},"mark":{"type":"text","align":"left","baseline":"middle","dx":-38.6},"encoding":{"x":{"datum":5.27,"axis":null},"y":{"datum":"hdr","type":"nominal","bandPosition":0.41,"axis":null},"text":{"value":"HFD-"}}},
   {"data":{"values":[{}]},"mark":{"type":"text","align":"left","baseline":"middle","fontStyle":"italic","dx":-6.4},"encoding":{"x":{"datum":5.27,"axis":null},"y":{"datum":"hdr","type":"nominal","bandPosition":0.41,"axis":null},"text":{"value":"Adk"}}},
   {"data":{"values":[{}]},"mark":{"type":"text","align":"left","baseline":"middle","fontSize":8,"dx":17.2,"dy":-5},"encoding":{"x":{"datum":5.27,"axis":null},"y":{"datum":"hdr","type":"nominal","bandPosition":0.41,"axis":null},"text":{"value":"ΔVEC"}}},
   {"data":{"values":[{}]},"mark":{"type":"rule","strokeWidth":1.3},"encoding":{"x":{"datum":0.27,"axis":null},"x2":{"datum":3.46},"y":{"datum":"hdr","type":"nominal","bandPosition":0.68,"axis":null}}},
   {"data":{"values":[{}]},"mark":{"type":"rule","strokeWidth":1.3},"encoding":{"x":{"datum":3.55,"axis":null},"x2":{"datum":6.73},"y":{"datum":"hdr","type":"nominal","bandPosition":0.68,"axis":null}}},
   {"data":{"values":[{}]},"mark":{"type":"text","align":"right","baseline":"middle","dx":-4},"encoding":{"x":{"datum":0.14,"axis":null},"y":{"datum":"hdr","type":"nominal","bandPosition":0.91,"axis":null},"text":{"value":"Insulin"}}},
   {"data":{"name":"lanes"},"mark":{"type":"text","baseline":"middle"},"encoding":{"x":{"field":"lane","type":"quantitative","axis":null},"y":{"datum":"hdr","type":"nominal","bandPosition":0.91,"axis":null},"text":{"field":"ins"}}},
   {"data":{"values":[{}]},"mark":{"type":"rule","strokeWidth":1.3},"encoding":{"x":{"datum":7.08,"axis":null},"y":{"datum":"p-Akt","type":"nominal","bandPosition":0.12,"axis":null},"y2":{"datum":"β-actin","bandPosition":0.88}}},
   {"data":{"values":[{}]},"mark":{"type":"text","angle":270,"align":"center","baseline":"middle"},"encoding":{"x":{"datum":7.55,"axis":null},"y":{"datum":"Akt","type":"nominal","bandPosition":0.5,"axis":null},"text":{"value":"Liver"}}},
   {"data":{"values":[{}]},"mark":{"type":"text","align":"right","baseline":"middle","fontSize":13,"dx":-22.5},"encoding":{"x":{"datum":0.14,"axis":null},"y":{"datum":"p-Akt","type":"nominal","bandPosition":0.27,"axis":null},"text":{"value":"p-Akt"}}},
   {"data":{"values":[{}]},"mark":{"type":"text","align":"right","baseline":"middle","fontSize":8,"dx":-4,"dy":-4},"encoding":{"x":{"datum":0.14,"axis":null},"y":{"datum":"p-Akt","type":"nominal","bandPosition":0.27,"axis":null},"text":{"value":"S473"}}},
   {"data":{"values":[{}]},"mark":{"type":"text","align":"right","baseline":"middle","fontSize":13,"dx":-4},"encoding":{"x":{"datum":0.14,"axis":null},"y":{"datum":"Akt","type":"nominal","bandPosition":0.5,"axis":null},"text":{"value":"Akt"}}},
   {"data":{"values":[{}]},"mark":{"type":"text","align":"right","baseline":"middle","fontSize":13,"dx":-4},"encoding":{"x":{"datum":0.14,"axis":null},"y":{"datum":"β-actin","type":"nominal","bandPosition":0.5,"axis":null},"text":{"value":"β-actin"}}}
  ]},
 {"width":128,"height":1,"data":{"values":[{}]},"mark":{"type":"point","opacity":0}},
 {"title":{"text":"H","dx":-54,"dy":11},"width":158,"height":145,"data":{"name":"hblot"},"resolve":{"scale":{"size":"independent"}},
  "layer":[
   {"data":{"values":[{"p":"p-Akt"},{"p":"Akt"},{"p":"β-actin"}]},"mark":{"type":"rect","fill":"#eeeeee","stroke":"black","strokeWidth":1.2},"encoding":{"x":{"datum":0.14,"scale":{"domain":[0.14,6.9],"nice":false,"zero":false},"axis":null},"x2":{"datum":6.9},"y":{"field":"p","type":"nominal","scale":{"domain":["hdr","p-Akt","Akt","β-actin"],"paddingInner":0.088,"paddingOuter":0},"axis":null}}},
   {"mark":{"type":"point","shape":"M-1,0C-1,-0.45 1,-0.45 1,0C1,0.45 -1,0.45 -1,0Z","filled":true,"fill":"black","strokeWidth":0},"encoding":{"x":{"field":"lane","type":"quantitative","axis":null},"y":{"field":"p","type":"nominal","axis":null},"size":{"field":"p","type":"ordinal","scale":{"domain":["p-Akt","Akt","β-actin"],"range":[1050,1250,1350]},"legend":null},"fillOpacity":{"field":"i","type":"quantitative","scale":{"domain":[0,1],"range":[0,0.3]},"legend":null}}},
   {"mark":{"type":"point","shape":"M-1,0C-1,-0.45 1,-0.45 1,0C1,0.45 -1,0.45 -1,0Z","filled":true,"fill":"black","strokeWidth":0},"encoding":{"x":{"field":"lane","type":"quantitative","axis":null},"y":{"field":"p","type":"nominal","axis":null},"size":{"field":"p","type":"ordinal","scale":{"domain":["p-Akt","Akt","β-actin"],"range":[560,640,720]},"legend":null},"opacity":{"field":"i","type":"quantitative","scale":{"domain":[0,1],"range":[0,0.95]},"legend":null}}},
   {"data":{"values":[{}]},"mark":{"type":"text","align":"left","baseline":"middle","dx":-34},"encoding":{"x":{"datum":1.89,"axis":null},"y":{"datum":"hdr","type":"nominal","bandPosition":0.41,"axis":null},"text":{"value":"HFD-"}}},
   {"data":{"values":[{}]},"mark":{"type":"text","align":"left","baseline":"middle","fontStyle":"italic","dx":-1.8},"encoding":{"x":{"datum":1.89,"axis":null},"y":{"datum":"hdr","type":"nominal","bandPosition":0.41,"axis":null},"text":{"value":"Adk"}}},
   {"data":{"values":[{}]},"mark":{"type":"text","align":"left","baseline":"middle","fontSize":8,"dx":21.8,"dy":-5},"encoding":{"x":{"datum":1.89,"axis":null},"y":{"datum":"hdr","type":"nominal","bandPosition":0.41,"axis":null},"text":{"value":"WT"}}},
   {"data":{"values":[{}]},"mark":{"type":"text","align":"left","baseline":"middle","dx":-38.6},"encoding":{"x":{"datum":5.27,"axis":null},"y":{"datum":"hdr","type":"nominal","bandPosition":0.41,"axis":null},"text":{"value":"HFD-"}}},
   {"data":{"values":[{}]},"mark":{"type":"text","align":"left","baseline":"middle","fontStyle":"italic","dx":-6.4},"encoding":{"x":{"datum":5.27,"axis":null},"y":{"datum":"hdr","type":"nominal","bandPosition":0.41,"axis":null},"text":{"value":"Adk"}}},
   {"data":{"values":[{}]},"mark":{"type":"text","align":"left","baseline":"middle","fontSize":8,"dx":17.2,"dy":-5},"encoding":{"x":{"datum":5.27,"axis":null},"y":{"datum":"hdr","type":"nominal","bandPosition":0.41,"axis":null},"text":{"value":"ΔVEC"}}},
   {"data":{"values":[{}]},"mark":{"type":"rule","strokeWidth":1.3},"encoding":{"x":{"datum":0.27,"axis":null},"x2":{"datum":3.46},"y":{"datum":"hdr","type":"nominal","bandPosition":0.68,"axis":null}}},
   {"data":{"values":[{}]},"mark":{"type":"rule","strokeWidth":1.3},"encoding":{"x":{"datum":3.55,"axis":null},"x2":{"datum":6.73},"y":{"datum":"hdr","type":"nominal","bandPosition":0.68,"axis":null}}},
   {"data":{"values":[{}]},"mark":{"type":"text","align":"right","baseline":"middle","dx":-4},"encoding":{"x":{"datum":0.14,"axis":null},"y":{"datum":"hdr","type":"nominal","bandPosition":0.91,"axis":null},"text":{"value":"Insulin"}}},
   {"data":{"name":"lanes"},"mark":{"type":"text","baseline":"middle"},"encoding":{"x":{"field":"lane","type":"quantitative","axis":null},"y":{"datum":"hdr","type":"nominal","bandPosition":0.91,"axis":null},"text":{"field":"ins"}}},
   {"data":{"values":[{}]},"mark":{"type":"rule","strokeWidth":1.3},"encoding":{"x":{"datum":7.05,"axis":null},"y":{"datum":"p-Akt","type":"nominal","bandPosition":0.12,"axis":null},"y2":{"datum":"β-actin","bandPosition":0.88}}},
   {"data":{"values":[{}]},"mark":{"type":"text","angle":270,"align":"center","baseline":"middle"},"encoding":{"x":{"datum":7.46,"axis":null},"y":{"datum":"Akt","type":"nominal","bandPosition":0.5,"axis":null},"text":{"value":"WAT"}}},
   {"data":{"values":[{}]},"mark":{"type":"text","align":"right","baseline":"middle","fontSize":13,"dx":-22.5},"encoding":{"x":{"datum":0.14,"axis":null},"y":{"datum":"p-Akt","type":"nominal","bandPosition":0.27,"axis":null},"text":{"value":"p-Akt"}}},
   {"data":{"values":[{}]},"mark":{"type":"text","align":"right","baseline":"middle","fontSize":8,"dx":-4,"dy":-4},"encoding":{"x":{"datum":0.14,"axis":null},"y":{"datum":"p-Akt","type":"nominal","bandPosition":0.27,"axis":null},"text":{"value":"S473"}}},
   {"data":{"values":[{}]},"mark":{"type":"text","align":"right","baseline":"middle","fontSize":13,"dx":-4},"encoding":{"x":{"datum":0.14,"axis":null},"y":{"datum":"Akt","type":"nominal","bandPosition":0.5,"axis":null},"text":{"value":"Akt"}}},
   {"data":{"values":[{}]},"mark":{"type":"text","align":"right","baseline":"middle","fontSize":13,"dx":-4},"encoding":{"x":{"datum":0.14,"axis":null},"y":{"datum":"β-actin","type":"nominal","bandPosition":0.5,"axis":null},"text":{"value":"β-actin"}}}
  ]},
 {"width":126,"height":1,"data":{"values":[{}]},"mark":{"type":"point","opacity":0}},
 {"title":{"text":"I","dx":-43,"dy":11},"width":157,"height":145,"data":{"name":"iblot"},"resolve":{"scale":{"size":"independent"}},
  "layer":[
   {"data":{"values":[{"p":"p-Akt"},{"p":"Akt"},{"p":"β-actin"}]},"mark":{"type":"rect","fill":"#eeeeee","stroke":"black","strokeWidth":1.2},"encoding":{"x":{"datum":0.14,"scale":{"domain":[0.14,6.9],"nice":false,"zero":false},"axis":null},"x2":{"datum":6.9},"y":{"field":"p","type":"nominal","scale":{"domain":["hdr","p-Akt","Akt","β-actin"],"paddingInner":0.088,"paddingOuter":0},"axis":null}}},
   {"mark":{"type":"point","shape":"M-1,0C-1,-0.45 1,-0.45 1,0C1,0.45 -1,0.45 -1,0Z","filled":true,"fill":"black","strokeWidth":0},"encoding":{"x":{"field":"lane","type":"quantitative","axis":null},"y":{"field":"p","type":"nominal","axis":null},"size":{"field":"p","type":"ordinal","scale":{"domain":["p-Akt","Akt","β-actin"],"range":[1050,1250,1350]},"legend":null},"fillOpacity":{"field":"i","type":"quantitative","scale":{"domain":[0,1],"range":[0,0.3]},"legend":null}}},
   {"mark":{"type":"point","shape":"M-1,0C-1,-0.45 1,-0.45 1,0C1,0.45 -1,0.45 -1,0Z","filled":true,"fill":"black","strokeWidth":0},"encoding":{"x":{"field":"lane","type":"quantitative","axis":null},"y":{"field":"p","type":"nominal","axis":null},"size":{"field":"p","type":"ordinal","scale":{"domain":["p-Akt","Akt","β-actin"],"range":[560,640,720]},"legend":null},"opacity":{"field":"i","type":"quantitative","scale":{"domain":[0,1],"range":[0,0.95]},"legend":null}}},
   {"data":{"values":[{}]},"mark":{"type":"text","align":"left","baseline":"middle","dx":-34},"encoding":{"x":{"datum":1.89,"axis":null},"y":{"datum":"hdr","type":"nominal","bandPosition":0.41,"axis":null},"text":{"value":"HFD-"}}},
   {"data":{"values":[{}]},"mark":{"type":"text","align":"left","baseline":"middle","fontStyle":"italic","dx":-1.8},"encoding":{"x":{"datum":1.89,"axis":null},"y":{"datum":"hdr","type":"nominal","bandPosition":0.41,"axis":null},"text":{"value":"Adk"}}},
   {"data":{"values":[{}]},"mark":{"type":"text","align":"left","baseline":"middle","fontSize":8,"dx":21.8,"dy":-5},"encoding":{"x":{"datum":1.89,"axis":null},"y":{"datum":"hdr","type":"nominal","bandPosition":0.41,"axis":null},"text":{"value":"WT"}}},
   {"data":{"values":[{}]},"mark":{"type":"text","align":"left","baseline":"middle","dx":-38.6},"encoding":{"x":{"datum":5.27,"axis":null},"y":{"datum":"hdr","type":"nominal","bandPosition":0.41,"axis":null},"text":{"value":"HFD-"}}},
   {"data":{"values":[{}]},"mark":{"type":"text","align":"left","baseline":"middle","fontStyle":"italic","dx":-6.4},"encoding":{"x":{"datum":5.27,"axis":null},"y":{"datum":"hdr","type":"nominal","bandPosition":0.41,"axis":null},"text":{"value":"Adk"}}},
   {"data":{"values":[{}]},"mark":{"type":"text","align":"left","baseline":"middle","fontSize":8,"dx":17.2,"dy":-5},"encoding":{"x":{"datum":5.27,"axis":null},"y":{"datum":"hdr","type":"nominal","bandPosition":0.41,"axis":null},"text":{"value":"ΔVEC"}}},
   {"data":{"values":[{}]},"mark":{"type":"rule","strokeWidth":1.3},"encoding":{"x":{"datum":0.27,"axis":null},"x2":{"datum":3.46},"y":{"datum":"hdr","type":"nominal","bandPosition":0.68,"axis":null}}},
   {"data":{"values":[{}]},"mark":{"type":"rule","strokeWidth":1.3},"encoding":{"x":{"datum":3.55,"axis":null},"x2":{"datum":6.73},"y":{"datum":"hdr","type":"nominal","bandPosition":0.68,"axis":null}}},
   {"data":{"values":[{}]},"mark":{"type":"text","align":"right","baseline":"middle","dx":-4},"encoding":{"x":{"datum":0.14,"axis":null},"y":{"datum":"hdr","type":"nominal","bandPosition":0.91,"axis":null},"text":{"value":"Insulin"}}},
   {"data":{"name":"lanes"},"mark":{"type":"text","baseline":"middle"},"encoding":{"x":{"field":"lane","type":"quantitative","axis":null},"y":{"datum":"hdr","type":"nominal","bandPosition":0.91,"axis":null},"text":{"field":"ins"}}},
   {"data":{"values":[{}]},"mark":{"type":"rule","strokeWidth":1.3},"encoding":{"x":{"datum":7.11,"axis":null},"y":{"datum":"p-Akt","type":"nominal","bandPosition":0.12,"axis":null},"y2":{"datum":"β-actin","bandPosition":0.88}}},
   {"data":{"values":[{}]},"mark":{"type":"text","angle":270,"align":"center","baseline":"middle"},"encoding":{"x":{"datum":7.5,"axis":null},"y":{"datum":"Akt","type":"nominal","bandPosition":0.5,"axis":null},"text":{"value":"Muscle"}}},
   {"data":{"values":[{}]},"mark":{"type":"text","align":"right","baseline":"middle","fontSize":13,"dx":-22.5},"encoding":{"x":{"datum":0.14,"axis":null},"y":{"datum":"p-Akt","type":"nominal","bandPosition":0.27,"axis":null},"text":{"value":"p-Akt"}}},
   {"data":{"values":[{}]},"mark":{"type":"text","align":"right","baseline":"middle","fontSize":8,"dx":-4,"dy":-4},"encoding":{"x":{"datum":0.14,"axis":null},"y":{"datum":"p-Akt","type":"nominal","bandPosition":0.27,"axis":null},"text":{"value":"S473"}}},
   {"data":{"values":[{}]},"mark":{"type":"text","align":"right","baseline":"middle","fontSize":13,"dx":-4},"encoding":{"x":{"datum":0.14,"axis":null},"y":{"datum":"Akt","type":"nominal","bandPosition":0.5,"axis":null},"text":{"value":"Akt"}}},
   {"data":{"values":[{}]},"mark":{"type":"text","align":"right","baseline":"middle","fontSize":13,"dx":-4},"encoding":{"x":{"datum":0.14,"axis":null},"y":{"datum":"β-actin","type":"nominal","bandPosition":0.5,"axis":null},"text":{"value":"β-actin"}}}
  ]}
]},
{"bounds":"flush","spacing":0,"hconcat":[
 {"width":76,"height":1,"data":{"values":[{}]},"mark":{"type":"point","opacity":0}},
 {"width":136,"height":141,"data":{"name":"gbar"},
  "layer":[
   {"mark":"bar","encoding":{"x":{"field":"c","type":"nominal","scale":{"domain":["WT-","WT+","VEC-","VEC+"],"paddingInner":0.22,"paddingOuter":0.08},"axis":{"labels":false,"ticks":false,"title":null}},"y":{"field":"v","type":"quantitative","scale":{"domain":[0,40],"nice":false},"axis":{"values":[0,10,20,30,40],"format":"d","tickCount":30,"labelOverlap":false,"title":null}},"fill":{"field":"g","type":"nominal","scale":{"domain":["WT","VEC"],"range":["black","white"]},"legend":null}}},
   {"mark":"rule","encoding":{"x":{"field":"c","type":"nominal"},"y":{"field":"v","type":"quantitative"},"y2":{"field":"e"}}},
   {"mark":{"type":"tick","orient":"horizontal","size":9},"encoding":{"x":{"field":"c","type":"nominal"},"y":{"field":"e","type":"quantitative"}}},
   {"data":{"values":[{}]},"mark":"rule","encoding":{"x":{"datum":"WT+","type":"nominal","bandPosition":0.5},"x2":{"datum":"VEC+","bandPosition":0.5},"y":{"datum":33.1}}},
   {"data":{"values":[{"c":"WT+"},{"c":"VEC+"}]},"mark":"rule","encoding":{"x":{"field":"c","type":"nominal"},"y":{"datum":33.1},"y2":{"datum":32.0}}},
   {"data":{"values":[{}]},"mark":{"type":"text","fontSize":15,"baseline":"alphabetic"},"encoding":{"x":{"datum":"VEC-","type":"nominal","bandPosition":0.5},"y":{"datum":33.1},"text":{"value":"**"}}},
   {"mark":{"type":"text","baseline":"middle","dy":13.5},"encoding":{"x":{"field":"c","type":"nominal"},"y":{"datum":0},"text":{"field":"ins"}}},
   {"data":{"values":[{}]},"mark":{"type":"text","align":"right","baseline":"middle","dx":-7,"dy":13.5},"encoding":{"x":{"datum":"WT-","type":"nominal","bandPosition":0},"y":{"datum":0},"text":{"value":"Insulin"}}},
   {"data":{"values":[{}]},"mark":{"type":"rule","strokeWidth":1.3},"encoding":{"x":{"datum":"WT-","type":"nominal","bandPosition":-0.04},"x2":{"datum":"WT+","bandPosition":1.0},"y":{"datum":-5.67}}},
   {"data":{"values":[{}]},"mark":{"type":"rule","strokeWidth":1.3},"encoding":{"x":{"datum":"VEC-","type":"nominal","bandPosition":-0.04},"x2":{"datum":"VEC+","bandPosition":1.1},"y":{"datum":-5.67}}},
   {"data":{"values":[{}]},"mark":{"type":"text","angle":-21,"align":"right","baseline":"top","fontSize":8,"dx":-7.5,"dy":17.6},"encoding":{"x":{"datum":"WT+","type":"nominal","bandPosition":1},"y":{"datum":0},"text":{"value":"WT"}}},
   {"data":{"values":[{}]},"mark":{"type":"text","angle":-21,"align":"right","baseline":"top","fontStyle":"italic","dx":-20.5,"dy":19.6},"encoding":{"x":{"datum":"WT+","type":"nominal","bandPosition":1},"y":{"datum":0},"text":{"value":"Adk"}}},
   {"data":{"values":[{}]},"mark":{"type":"text","angle":-21,"align":"right","baseline":"top","dx":-43.8,"dy":19.6},"encoding":{"x":{"datum":"WT+","type":"nominal","bandPosition":1},"y":{"datum":0},"text":{"value":"HFD-"}}},
   {"data":{"values":[{}]},"mark":{"type":"text","angle":-21,"align":"right","baseline":"top","fontSize":8,"dx":-7.5,"dy":17.6},"encoding":{"x":{"datum":"VEC+","type":"nominal","bandPosition":1},"y":{"datum":0},"text":{"value":"ΔVEC"}}},
   {"data":{"values":[{}]},"mark":{"type":"text","angle":-21,"align":"right","baseline":"top","fontStyle":"italic","dx":-29.9,"dy":19.6},"encoding":{"x":{"datum":"VEC+","type":"nominal","bandPosition":1},"y":{"datum":0},"text":{"value":"Adk"}}},
   {"data":{"values":[{}]},"mark":{"type":"text","angle":-21,"align":"right","baseline":"top","dx":-53.2,"dy":19.6},"encoding":{"x":{"datum":"VEC+","type":"nominal","bandPosition":1},"y":{"datum":0},"text":{"value":"HFD-"}}},
   {"data":{"values":[{}]},"mark":{"type":"text","angle":270,"align":"left","baseline":"middle","fontSize":13,"dx":-39.3},"encoding":{"x":{"datum":"WT-","type":"nominal","bandPosition":-1.55},"y":{"datum":20},"text":{"value":"p-Akt"}}},
   {"data":{"values":[{}]},"mark":{"type":"text","angle":270,"align":"left","baseline":"middle","fontSize":8,"dx":-9,"dy":-5},"encoding":{"x":{"datum":"WT-","type":"nominal","bandPosition":-1.55},"y":{"datum":20},"text":{"value":"S473"}}},
   {"data":{"values":[{}]},"mark":{"type":"text","angle":270,"align":"left","baseline":"middle","fontSize":13,"dx":13.3},"encoding":{"x":{"datum":"WT-","type":"nominal","bandPosition":-1.55},"y":{"datum":20},"text":{"value":"/ Akt"}}},
   {"data":{"values":[{}]},"mark":{"type":"text","angle":270,"align":"center","baseline":"middle","fontSize":13,"dy":11},"encoding":{"x":{"datum":"WT-","type":"nominal","bandPosition":-1.55},"y":{"datum":20},"text":{"value":"(fold of control)"}}}
  ]},
 {"width":147,"height":1,"data":{"values":[{}]},"mark":{"type":"point","opacity":0}},
 {"width":136,"height":141,"data":{"name":"hbar"},
  "layer":[
   {"mark":"bar","encoding":{"x":{"field":"c","type":"nominal","scale":{"domain":["WT-","WT+","VEC-","VEC+"],"paddingInner":0.22,"paddingOuter":0.08},"axis":{"labels":false,"ticks":false,"title":null}},"y":{"field":"v","type":"quantitative","scale":{"domain":[0,5],"nice":false},"axis":{"values":[0,1,2,3,4,5],"format":"d","tickCount":30,"labelOverlap":false,"title":null}},"fill":{"field":"g","type":"nominal","scale":{"domain":["WT","VEC"],"range":["black","white"]},"legend":null}}},
   {"mark":"rule","encoding":{"x":{"field":"c","type":"nominal"},"y":{"field":"v","type":"quantitative"},"y2":{"field":"e"}}},
   {"mark":{"type":"tick","orient":"horizontal","size":9},"encoding":{"x":{"field":"c","type":"nominal"},"y":{"field":"e","type":"quantitative"}}},
   {"data":{"values":[{}]},"mark":"rule","encoding":{"x":{"datum":"WT+","type":"nominal","bandPosition":0.5},"x2":{"datum":"VEC+","bandPosition":0.5},"y":{"datum":4.74}}},
   {"data":{"values":[{"c":"WT+"},{"c":"VEC+"}]},"mark":"rule","encoding":{"x":{"field":"c","type":"nominal"},"y":{"datum":4.74},"y2":{"datum":4.6}}},
   {"data":{"values":[{}]},"mark":{"type":"text","fontSize":15,"baseline":"alphabetic"},"encoding":{"x":{"datum":"VEC-","type":"nominal","bandPosition":0.5},"y":{"datum":4.74},"text":{"value":"**"}}},
   {"mark":{"type":"text","baseline":"middle","dy":13.5},"encoding":{"x":{"field":"c","type":"nominal"},"y":{"datum":0},"text":{"field":"ins"}}},
   {"data":{"values":[{}]},"mark":{"type":"text","align":"right","baseline":"middle","dx":-7,"dy":13.5},"encoding":{"x":{"datum":"WT-","type":"nominal","bandPosition":0},"y":{"datum":0},"text":{"value":"Insulin"}}},
   {"data":{"values":[{}]},"mark":{"type":"rule","strokeWidth":1.3},"encoding":{"x":{"datum":"WT-","type":"nominal","bandPosition":-0.04},"x2":{"datum":"WT+","bandPosition":1.0},"y":{"datum":-0.709}}},
   {"data":{"values":[{}]},"mark":{"type":"rule","strokeWidth":1.3},"encoding":{"x":{"datum":"VEC-","type":"nominal","bandPosition":-0.04},"x2":{"datum":"VEC+","bandPosition":1.1},"y":{"datum":-0.709}}},
   {"data":{"values":[{}]},"mark":{"type":"text","angle":-21,"align":"right","baseline":"top","fontSize":8,"dx":-7.5,"dy":17.6},"encoding":{"x":{"datum":"WT+","type":"nominal","bandPosition":1},"y":{"datum":0},"text":{"value":"WT"}}},
   {"data":{"values":[{}]},"mark":{"type":"text","angle":-21,"align":"right","baseline":"top","fontStyle":"italic","dx":-20.5,"dy":19.6},"encoding":{"x":{"datum":"WT+","type":"nominal","bandPosition":1},"y":{"datum":0},"text":{"value":"Adk"}}},
   {"data":{"values":[{}]},"mark":{"type":"text","angle":-21,"align":"right","baseline":"top","dx":-43.8,"dy":19.6},"encoding":{"x":{"datum":"WT+","type":"nominal","bandPosition":1},"y":{"datum":0},"text":{"value":"HFD-"}}},
   {"data":{"values":[{}]},"mark":{"type":"text","angle":-21,"align":"right","baseline":"top","fontSize":8,"dx":-7.5,"dy":17.6},"encoding":{"x":{"datum":"VEC+","type":"nominal","bandPosition":1},"y":{"datum":0},"text":{"value":"ΔVEC"}}},
   {"data":{"values":[{}]},"mark":{"type":"text","angle":-21,"align":"right","baseline":"top","fontStyle":"italic","dx":-29.9,"dy":19.6},"encoding":{"x":{"datum":"VEC+","type":"nominal","bandPosition":1},"y":{"datum":0},"text":{"value":"Adk"}}},
   {"data":{"values":[{}]},"mark":{"type":"text","angle":-21,"align":"right","baseline":"top","dx":-53.2,"dy":19.6},"encoding":{"x":{"datum":"VEC+","type":"nominal","bandPosition":1},"y":{"datum":0},"text":{"value":"HFD-"}}},
   {"data":{"values":[{}]},"mark":{"type":"text","angle":270,"align":"left","baseline":"middle","fontSize":13,"dx":-39.3},"encoding":{"x":{"datum":"WT-","type":"nominal","bandPosition":-1.55},"y":{"datum":2.5},"text":{"value":"p-Akt"}}},
   {"data":{"values":[{}]},"mark":{"type":"text","angle":270,"align":"left","baseline":"middle","fontSize":8,"dx":-9,"dy":-5},"encoding":{"x":{"datum":"WT-","type":"nominal","bandPosition":-1.55},"y":{"datum":2.5},"text":{"value":"S473"}}},
   {"data":{"values":[{}]},"mark":{"type":"text","angle":270,"align":"left","baseline":"middle","fontSize":13,"dx":13.3},"encoding":{"x":{"datum":"WT-","type":"nominal","bandPosition":-1.55},"y":{"datum":2.5},"text":{"value":"/ Akt"}}},
   {"data":{"values":[{}]},"mark":{"type":"text","angle":270,"align":"center","baseline":"middle","fontSize":13,"dy":11},"encoding":{"x":{"datum":"WT-","type":"nominal","bandPosition":-1.55},"y":{"datum":2.5},"text":{"value":"(fold of control)"}}}
  ]},
 {"width":150,"height":1,"data":{"values":[{}]},"mark":{"type":"point","opacity":0}},
 {"width":134,"height":141,"data":{"name":"ibar"},
  "layer":[
   {"mark":"bar","encoding":{"x":{"field":"c","type":"nominal","scale":{"domain":["WT-","WT+","VEC-","VEC+"],"paddingInner":0.22,"paddingOuter":0.08},"axis":{"labels":false,"ticks":false,"title":null}},"y":{"field":"v","type":"quantitative","scale":{"domain":[0,60],"nice":false},"axis":{"values":[0,15,30,45,60],"format":"d","tickCount":30,"labelOverlap":false,"title":null}},"fill":{"field":"g","type":"nominal","scale":{"domain":["WT","VEC"],"range":["black","white"]},"legend":null}}},
   {"mark":"rule","encoding":{"x":{"field":"c","type":"nominal"},"y":{"field":"v","type":"quantitative"},"y2":{"field":"e"}}},
   {"mark":{"type":"tick","orient":"horizontal","size":9},"encoding":{"x":{"field":"c","type":"nominal"},"y":{"field":"e","type":"quantitative"}}},
   {"data":{"values":[{}]},"mark":"rule","encoding":{"x":{"datum":"WT+","type":"nominal","bandPosition":0.5},"x2":{"datum":"VEC+","bandPosition":0.5},"y":{"datum":43.8}}},
   {"data":{"values":[{"c":"WT+"},{"c":"VEC+"}]},"mark":"rule","encoding":{"x":{"field":"c","type":"nominal"},"y":{"datum":43.8},"y2":{"datum":42.1}}},
   {"data":{"values":[{}]},"mark":{"type":"text","fontSize":15,"baseline":"alphabetic"},"encoding":{"x":{"datum":"VEC-","type":"nominal","bandPosition":0.5},"y":{"datum":43.8},"text":{"value":"**"}}},
   {"mark":{"type":"text","baseline":"middle","dy":13.5},"encoding":{"x":{"field":"c","type":"nominal"},"y":{"datum":0},"text":{"field":"ins"}}},
   {"data":{"values":[{}]},"mark":{"type":"text","align":"right","baseline":"middle","dx":-7,"dy":13.5},"encoding":{"x":{"datum":"WT-","type":"nominal","bandPosition":0},"y":{"datum":0},"text":{"value":"Insulin"}}},
   {"data":{"values":[{}]},"mark":{"type":"rule","strokeWidth":1.3},"encoding":{"x":{"datum":"WT-","type":"nominal","bandPosition":-0.04},"x2":{"datum":"WT+","bandPosition":1.0},"y":{"datum":-8.51}}},
   {"data":{"values":[{}]},"mark":{"type":"rule","strokeWidth":1.3},"encoding":{"x":{"datum":"VEC-","type":"nominal","bandPosition":-0.04},"x2":{"datum":"VEC+","bandPosition":1.1},"y":{"datum":-8.51}}},
   {"data":{"values":[{}]},"mark":{"type":"text","angle":-21,"align":"right","baseline":"top","fontSize":8,"dx":-7.5,"dy":17.6},"encoding":{"x":{"datum":"WT+","type":"nominal","bandPosition":1},"y":{"datum":0},"text":{"value":"WT"}}},
   {"data":{"values":[{}]},"mark":{"type":"text","angle":-21,"align":"right","baseline":"top","fontStyle":"italic","dx":-20.5,"dy":19.6},"encoding":{"x":{"datum":"WT+","type":"nominal","bandPosition":1},"y":{"datum":0},"text":{"value":"Adk"}}},
   {"data":{"values":[{}]},"mark":{"type":"text","angle":-21,"align":"right","baseline":"top","dx":-43.8,"dy":19.6},"encoding":{"x":{"datum":"WT+","type":"nominal","bandPosition":1},"y":{"datum":0},"text":{"value":"HFD-"}}},
   {"data":{"values":[{}]},"mark":{"type":"text","angle":-21,"align":"right","baseline":"top","fontSize":8,"dx":-7.5,"dy":17.6},"encoding":{"x":{"datum":"VEC+","type":"nominal","bandPosition":1},"y":{"datum":0},"text":{"value":"ΔVEC"}}},
   {"data":{"values":[{}]},"mark":{"type":"text","angle":-21,"align":"right","baseline":"top","fontStyle":"italic","dx":-29.9,"dy":19.6},"encoding":{"x":{"datum":"VEC+","type":"nominal","bandPosition":1},"y":{"datum":0},"text":{"value":"Adk"}}},
   {"data":{"values":[{}]},"mark":{"type":"text","angle":-21,"align":"right","baseline":"top","dx":-53.2,"dy":19.6},"encoding":{"x":{"datum":"VEC+","type":"nominal","bandPosition":1},"y":{"datum":0},"text":{"value":"HFD-"}}},
   {"data":{"values":[{}]},"mark":{"type":"text","angle":270,"align":"left","baseline":"middle","fontSize":13,"dx":-39.3},"encoding":{"x":{"datum":"WT-","type":"nominal","bandPosition":-1.55},"y":{"datum":30},"text":{"value":"p-Akt"}}},
   {"data":{"values":[{}]},"mark":{"type":"text","angle":270,"align":"left","baseline":"middle","fontSize":8,"dx":-9,"dy":-5},"encoding":{"x":{"datum":"WT-","type":"nominal","bandPosition":-1.55},"y":{"datum":30},"text":{"value":"S473"}}},
   {"data":{"values":[{}]},"mark":{"type":"text","angle":270,"align":"left","baseline":"middle","fontSize":13,"dx":13.3},"encoding":{"x":{"datum":"WT-","type":"nominal","bandPosition":-1.55},"y":{"datum":30},"text":{"value":"/ Akt"}}},
   {"data":{"values":[{}]},"mark":{"type":"text","angle":270,"align":"center","baseline":"middle","fontSize":13,"dy":11},"encoding":{"x":{"datum":"WT-","type":"nominal","bandPosition":-1.55},"y":{"datum":30},"text":{"value":"(fold of control)"}}}
  ]}
]}
]
}
